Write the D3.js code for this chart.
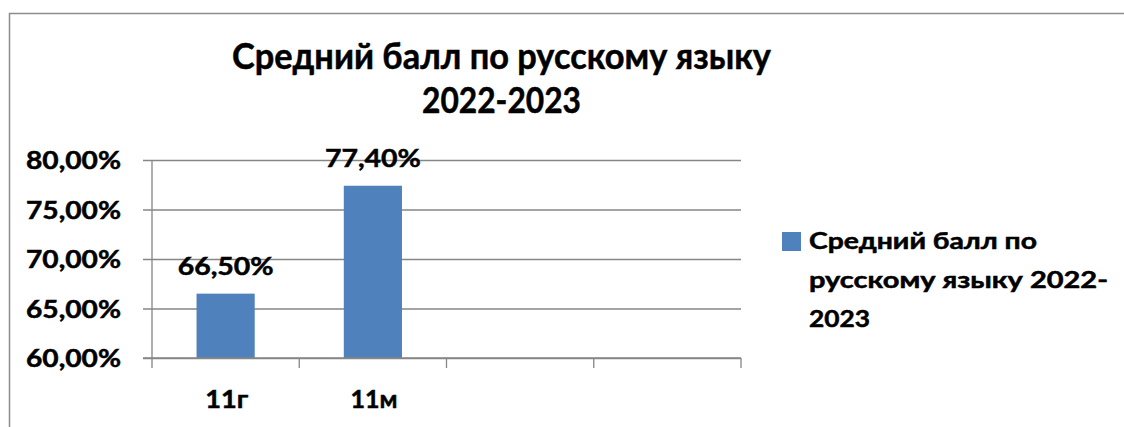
<!DOCTYPE html>
<html>
<head>
<meta charset="utf-8">
<script src="https://cdn.jsdelivr.net/npm/d3@7"></script>
<style>
  html, body { margin: 0; padding: 0; background: #fff; }
  svg { display: block; }
  text { font-family: Lato, "Open Sans", "DejaVu Sans", sans-serif; font-weight: bold; fill: #000;
         stroke: #000; stroke-width: 0.5px; }
</style>
</head>
<body>
<svg id="chart" width="1124" height="427"></svg>
<script>
// ---- data ----
const categories = ["11г", "11м", "", ""];
const values = [0.665, 0.774, null, null];
const dataLabels = ["66,50%", "77,40%", "", ""];
const yTicks = [0.60, 0.65, 0.70, 0.75, 0.80];
const yTickLabels = ["60,00%", "65,00%", "70,00%", "75,00%", "80,00%"];
const titleLines = ["Средний балл по русскому языку", "2022-2023"];
const seriesName = "Средний балл по русскому языку 2022-2023";
const legendLines = ["Средний балл по", "русскому языку 2022-", "2023"];

// ---- layout ----
const W = 1124, H = 427;
const plot = { left: 152, right: 741, top: 160, bottom: 358 };
const barColor = "#4F81BD";
const gridColor = "#868686";

const svg = d3.select("#chart");

function fit(sel, w) {
  sel.attr("textLength", w).attr("lengthAdjust", "spacingAndGlyphs");
  return sel;
}

// outer frame
svg.append("path")
  .attr("d", `M9.5,${H} V13.5 H${W}`)
  .attr("fill", "none").attr("stroke", "#8c8c8c").attr("stroke-width", 1.5);

const idx = categories.map((d, i) => i);
const x = d3.scaleBand().domain(idx).range([plot.left, plot.right])
  .paddingInner(0.605).paddingOuter(0.3025);
const xEdges = d3.scaleBand().domain(idx).range([plot.left, plot.right]).padding(0);
const y = d3.scaleLinear().domain([0.6, 0.8]).range([plot.bottom, plot.top]);

// gridlines + y tick marks
const yAxis = d3.axisLeft(y).tickValues(yTicks).tickSize(-(plot.right - plot.left)).tickFormat("");
const gy = svg.append("g").attr("transform", `translate(${plot.left},0)`).call(yAxis);
gy.select(".domain").remove();
gy.selectAll(".tick line").attr("stroke", gridColor).attr("stroke-width", 1.3)
  .attr("x1", -9);

// y axis line
svg.append("line")
  .attr("x1", plot.left).attr("x2", plot.left)
  .attr("y1", plot.top).attr("y2", plot.bottom)
  .attr("stroke", gridColor).attr("stroke-width", 1.3);

// y tick labels
const yLabelW = 95;
yTicks.forEach((t, i) => {
  fit(svg.append("text")
    .attr("x", 121).attr("y", y(t) + 9)
    .attr("text-anchor", "end")
    .attr("font-size", 24)
    .text(yTickLabels[i]), yLabelW);
});

// x axis ticks at category boundaries
const edges = idx.map(i => xEdges(i)).concat([plot.right]);
svg.append("g").selectAll("line").data(edges).join("line")
  .attr("x1", d => d).attr("x2", d => d)
  .attr("y1", plot.bottom).attr("y2", plot.bottom + 10)
  .attr("stroke", gridColor).attr("stroke-width", 1.3);

// bars
const barData = idx.filter(i => values[i] != null);
svg.append("g").selectAll("rect").data(barData).join("rect")
  .attr("x", i => x(i))
  .attr("width", x.bandwidth())
  .attr("y", i => y(values[i]))
  .attr("height", i => y(0.6) - y(values[i]))
  .attr("fill", barColor);

// data labels
barData.forEach(i => {
  fit(svg.append("text")
    .attr("x", x(i) + x.bandwidth() / 2)
    .attr("y", y(values[i]) - 19)
    .attr("text-anchor", "middle")
    .attr("font-size", 25)
    .text(dataLabels[i]), 96);
});

// x labels
const xLabelW = { "11г": 43, "11м": 47 };
idx.forEach(i => {
  if (!categories[i]) return;
  fit(svg.append("text")
    .attr("x", x(i) + x.bandwidth() / 2 + 1)
    .attr("y", 408)
    .attr("text-anchor", "middle")
    .attr("font-size", 25)
    .text(categories[i]), xLabelW[categories[i]]);
});

// axis baseline
svg.append("line")
  .attr("x1", plot.left - 9).attr("x2", plot.right)
  .attr("y1", plot.bottom).attr("y2", plot.bottom)
  .attr("stroke", gridColor).attr("stroke-width", 1.3);

// title
fit(svg.append("text").attr("x", 501.5).attr("y", 69).attr("text-anchor", "middle")
  .attr("font-size", 36).text(titleLines[0]), 539);
fit(svg.append("text").attr("x", 501.5).attr("y", 113).attr("text-anchor", "middle")
  .attr("font-size", 36).text(titleLines[1]), 159);

// legend
const lg = svg.append("g").attr("class", "legend");
lg.append("rect").attr("x", 782).attr("y", 232).attr("width", 19).attr("height", 19)
  .attr("fill", barColor).append("title").text(seriesName);
const legendW = [228, 299, 61];
const legendY = [249, 288, 327];
legendLines.forEach((l, i) => {
  fit(lg.append("text").attr("x", 809).attr("y", legendY[i])
    .attr("font-size", 22).text(l), legendW[i]);
});
</script>
</body>
</html>
